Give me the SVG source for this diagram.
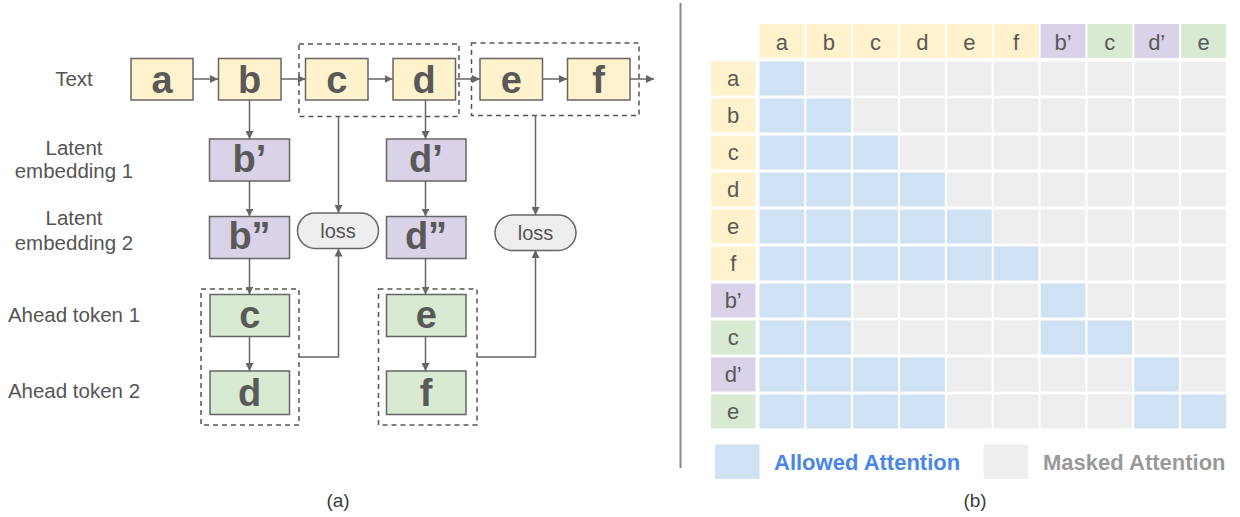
<svg xmlns="http://www.w3.org/2000/svg" width="1240" height="517" viewBox="0 0 1240 517">
  <style>
    .lbl { font-family: "Liberation Sans", Arial, sans-serif; font-size: 20.5px; fill: #555; text-anchor: middle; }
    .tok { font-family: "Liberation Sans", Arial, sans-serif; font-size: 38px; font-weight: bold; fill: #595959; text-anchor: middle; }
    .loss-t { font-family: "Liberation Sans", Arial, sans-serif; font-size: 20px; fill: #555; text-anchor: middle; }
    .cap { font-family: "Liberation Sans", Arial, sans-serif; font-size: 19px; fill: #3c3c3c; text-anchor: middle; }
    .gt { font-family: "Liberation Sans", Arial, sans-serif; font-size: 22px; fill: #595959; text-anchor: middle; }
    .yel { fill: #fff2cc; stroke: #666; stroke-width: 1.5; }
    .pur { fill: #d9d2e9; stroke: #666; stroke-width: 1.5; }
    .grn { fill: #d9ead3; stroke: #666; stroke-width: 1.5; }
    .loss { fill: #eeeeee; stroke: #666; stroke-width: 1.5; }
    .dash { fill: none; stroke: #555; stroke-width: 1.5; stroke-dasharray: 5 4; }
    .conn { fill: none; stroke: #666; stroke-width: 1.5; }
    .hy { fill: #fff2cc; } .hp { fill: #d9d2e9; } .hg { fill: #d9ead3; }
    .on { fill: #cfe2f3; } .off { fill: #eeeeee; }
    .leg { font-family: "Liberation Sans", Arial, sans-serif; font-size: 22px; font-weight: bold; }
  </style>
  <defs>
    <marker id="arr" viewBox="0 0 10 10" refX="10" refY="5" markerWidth="8" markerHeight="8" markerUnits="userSpaceOnUse" orient="auto">
      <path d="M0,0 L10,5 L0,10 z" fill="#666"/>
    </marker>
  </defs>

  <!-- row labels -->
  <g id="labels">
    <text class="lbl" x="74" y="86">Text</text>
    <text class="lbl" x="74" y="155">Latent</text>
    <text class="lbl" x="74" y="178">embedding 1</text>
    <text class="lbl" x="74" y="225">Latent</text>
    <text class="lbl" x="74" y="250">embedding 2</text>
    <text class="lbl" x="74" y="322">Ahead token 1</text>
    <text class="lbl" x="74" y="398">Ahead token 2</text>
  </g>

  <!-- dashed groupings -->
  <g id="group-cd"><rect class="dash" x="299" y="44" width="160" height="72.5"/></g>
  <g id="group-ef"><rect class="dash" x="471.5" y="43" width="167.5" height="72.5"/></g>
  <g id="group-ahead1"><rect class="dash" x="201" y="289" width="98" height="136"/></g>
  <g id="group-ahead2"><rect class="dash" x="378.5" y="289" width="98.5" height="136"/></g>

  <!-- connectors -->
  <g id="connectors" class="conn">
    <line x1="193" y1="79" x2="218" y2="79" marker-end="url(#arr)"/>
    <line x1="281" y1="79" x2="305.5" y2="79" marker-end="url(#arr)"/>
    <line x1="368" y1="79" x2="392.5" y2="79" marker-end="url(#arr)"/>
    <line x1="455.5" y1="79" x2="480" y2="79" marker-end="url(#arr)"/>
    <line x1="542.5" y1="79" x2="567" y2="79" marker-end="url(#arr)"/>
    <line x1="630" y1="79" x2="654" y2="79" marker-end="url(#arr)"/>
    <line x1="249.5" y1="100" x2="249.5" y2="139" marker-end="url(#arr)"/>
    <line x1="249.5" y1="181" x2="249.5" y2="216.5" marker-end="url(#arr)"/>
    <line x1="249.5" y1="258.5" x2="249.5" y2="294.5" marker-end="url(#arr)"/>
    <line x1="249.5" y1="336.5" x2="249.5" y2="371" marker-end="url(#arr)"/>
    <line x1="425.5" y1="100" x2="425.5" y2="139" marker-end="url(#arr)"/>
    <line x1="425.5" y1="181" x2="425.5" y2="216.5" marker-end="url(#arr)"/>
    <line x1="425.5" y1="258.5" x2="425.5" y2="294.5" marker-end="url(#arr)"/>
    <line x1="425.5" y1="336.5" x2="425.5" y2="371" marker-end="url(#arr)"/>
    <line x1="338.5" y1="116.5" x2="338.5" y2="213" marker-end="url(#arr)"/>
    <polyline points="299,357 338.5,357 338.5,248.5" marker-end="url(#arr)"/>
    <line x1="535.5" y1="115.5" x2="535.5" y2="215" marker-end="url(#arr)"/>
    <polyline points="477,357 535.5,357 535.5,250" marker-end="url(#arr)"/>
  </g>

  <!-- text tokens -->
  <g id="tok-a"><rect class="yel" x="131" y="58.5" width="62" height="41.5"/><text class="tok" x="162" y="93">a</text></g>
  <g id="tok-b"><rect class="yel" x="218.5" y="58.5" width="62.5" height="41.5"/><text class="tok" x="249.7" y="93">b</text></g>
  <g id="tok-c"><rect class="yel" x="305.5" y="58.5" width="62.5" height="41.5"/><text class="tok" x="336.7" y="93">c</text></g>
  <g id="tok-d"><rect class="yel" x="393" y="58.5" width="62.5" height="41.5"/><text class="tok" x="424.2" y="93">d</text></g>
  <g id="tok-e"><rect class="yel" x="480" y="58.5" width="62.5" height="41.5"/><text class="tok" x="511.2" y="93">e</text></g>
  <g id="tok-f"><rect class="yel" x="567.5" y="58.5" width="62.5" height="41.5"/><text class="tok" x="598.7" y="93">f</text></g>

  <!-- latent embeddings -->
  <g id="lat-b1"><rect class="pur" x="209.5" y="139" width="80" height="42"/><text class="tok" x="249.5" y="172">b’</text></g>
  <g id="lat-b2"><rect class="pur" x="209.5" y="216.5" width="80" height="42"/><text class="tok" x="249.5" y="248.5">b”</text></g>
  <g id="lat-d1"><rect class="pur" x="386.5" y="139" width="79.5" height="42"/><text class="tok" x="426" y="172">d’</text></g>
  <g id="lat-d2"><rect class="pur" x="386.5" y="216.5" width="79.5" height="42"/><text class="tok" x="426" y="248.5">d”</text></g>

  <!-- ahead tokens -->
  <g id="ahead-c"><rect class="grn" x="210" y="294.5" width="79.5" height="42"/><text class="tok" x="249.7" y="328">c</text></g>
  <g id="ahead-d"><rect class="grn" x="210" y="371" width="79.5" height="43.5"/><text class="tok" x="249.7" y="406">d</text></g>
  <g id="ahead-e"><rect class="grn" x="386.5" y="294.5" width="79.5" height="42"/><text class="tok" x="426.2" y="328">e</text></g>
  <g id="ahead-f"><rect class="grn" x="386.5" y="371" width="79.5" height="43.5"/><text class="tok" x="426.2" y="406">f</text></g>

  <!-- losses -->
  <g id="loss-1"><rect class="loss" x="297.5" y="213" width="81" height="35.5" rx="17.7"/><text class="loss-t" x="338" y="238">loss</text></g>
  <g id="loss-2"><rect class="loss" x="495" y="215" width="81" height="35.5" rx="17.7"/><text class="loss-t" x="535.5" y="240">loss</text></g>

  <!-- panel divider -->
  <line x1="680.5" y1="3" x2="680.5" y2="468" stroke="#888" stroke-width="2"/>

  <!-- attention mask grid -->
  <g id="grid-header">
    <rect class="hy" x="759.5" y="24" width="44.8" height="34"/><text class="gt" x="781.9" y="49.5">a</text>
    <rect class="hy" x="806.35" y="24" width="44.8" height="34"/><text class="gt" x="828.75" y="49.5">b</text>
    <rect class="hy" x="853.2" y="24" width="44.8" height="34"/><text class="gt" x="875.6" y="49.5">c</text>
    <rect class="hy" x="900.05" y="24" width="44.8" height="34"/><text class="gt" x="922.45" y="49.5">d</text>
    <rect class="hy" x="946.9" y="24" width="44.8" height="34"/><text class="gt" x="969.3" y="49.5">e</text>
    <rect class="hy" x="993.75" y="24" width="44.8" height="34"/><text class="gt" x="1016.15" y="49.5">f</text>
    <rect class="hp" x="1040.6" y="24" width="44.8" height="34"/><text class="gt" x="1063" y="49.5">b’</text>
    <rect class="hg" x="1087.45" y="24" width="44.8" height="34"/><text class="gt" x="1109.85" y="49.5">c</text>
    <rect class="hp" x="1134.3" y="24" width="44.8" height="34"/><text class="gt" x="1156.7" y="49.5">d’</text>
    <rect class="hg" x="1181.15" y="24" width="44.8" height="34"/><text class="gt" x="1203.55" y="49.5">e</text>
  </g>
  <g id="grid-rows">
    <rect class="hy" x="711" y="61.5" width="44.5" height="34"/><text class="gt" x="733.2" y="86.2">a</text>
    <rect class="hy" x="711" y="98.5" width="44.5" height="34"/><text class="gt" x="733.2" y="123.2">b</text>
    <rect class="hy" x="711" y="135.5" width="44.5" height="34"/><text class="gt" x="733.2" y="160.2">c</text>
    <rect class="hy" x="711" y="172.5" width="44.5" height="34"/><text class="gt" x="733.2" y="197.2">d</text>
    <rect class="hy" x="711" y="209.5" width="44.5" height="34"/><text class="gt" x="733.2" y="234.2">e</text>
    <rect class="hy" x="711" y="246.5" width="44.5" height="34"/><text class="gt" x="733.2" y="271.2">f</text>
    <rect class="hp" x="711" y="283.5" width="44.5" height="34"/><text class="gt" x="733.2" y="308.2">b’</text>
    <rect class="hg" x="711" y="320.5" width="44.5" height="34"/><text class="gt" x="733.2" y="345.2">c</text>
    <rect class="hp" x="711" y="357.5" width="44.5" height="34"/><text class="gt" x="733.2" y="382.2">d’</text>
    <rect class="hg" x="711" y="394.5" width="44.5" height="34"/><text class="gt" x="733.2" y="419.2">e</text>
  </g>
  <g id="grid-cells">
    <!-- row a -->
    <rect class="on" x="759.5" y="61.5" width="44.8" height="34"/>
    <rect class="off" x="806.35" y="61.5" width="44.8" height="34"/>
    <rect class="off" x="853.2" y="61.5" width="44.8" height="34"/>
    <rect class="off" x="900.05" y="61.5" width="44.8" height="34"/>
    <rect class="off" x="946.9" y="61.5" width="44.8" height="34"/>
    <rect class="off" x="993.75" y="61.5" width="44.8" height="34"/>
    <rect class="off" x="1040.6" y="61.5" width="44.8" height="34"/>
    <rect class="off" x="1087.45" y="61.5" width="44.8" height="34"/>
    <rect class="off" x="1134.3" y="61.5" width="44.8" height="34"/>
    <rect class="off" x="1181.15" y="61.5" width="44.8" height="34"/>
    <!-- row b -->
    <rect class="on" x="759.5" y="98.5" width="44.8" height="34"/>
    <rect class="on" x="806.35" y="98.5" width="44.8" height="34"/>
    <rect class="off" x="853.2" y="98.5" width="44.8" height="34"/>
    <rect class="off" x="900.05" y="98.5" width="44.8" height="34"/>
    <rect class="off" x="946.9" y="98.5" width="44.8" height="34"/>
    <rect class="off" x="993.75" y="98.5" width="44.8" height="34"/>
    <rect class="off" x="1040.6" y="98.5" width="44.8" height="34"/>
    <rect class="off" x="1087.45" y="98.5" width="44.8" height="34"/>
    <rect class="off" x="1134.3" y="98.5" width="44.8" height="34"/>
    <rect class="off" x="1181.15" y="98.5" width="44.8" height="34"/>
    <!-- row c -->
    <rect class="on" x="759.5" y="135.5" width="44.8" height="34"/>
    <rect class="on" x="806.35" y="135.5" width="44.8" height="34"/>
    <rect class="on" x="853.2" y="135.5" width="44.8" height="34"/>
    <rect class="off" x="900.05" y="135.5" width="44.8" height="34"/>
    <rect class="off" x="946.9" y="135.5" width="44.8" height="34"/>
    <rect class="off" x="993.75" y="135.5" width="44.8" height="34"/>
    <rect class="off" x="1040.6" y="135.5" width="44.8" height="34"/>
    <rect class="off" x="1087.45" y="135.5" width="44.8" height="34"/>
    <rect class="off" x="1134.3" y="135.5" width="44.8" height="34"/>
    <rect class="off" x="1181.15" y="135.5" width="44.8" height="34"/>
    <!-- row d -->
    <rect class="on" x="759.5" y="172.5" width="44.8" height="34"/>
    <rect class="on" x="806.35" y="172.5" width="44.8" height="34"/>
    <rect class="on" x="853.2" y="172.5" width="44.8" height="34"/>
    <rect class="on" x="900.05" y="172.5" width="44.8" height="34"/>
    <rect class="off" x="946.9" y="172.5" width="44.8" height="34"/>
    <rect class="off" x="993.75" y="172.5" width="44.8" height="34"/>
    <rect class="off" x="1040.6" y="172.5" width="44.8" height="34"/>
    <rect class="off" x="1087.45" y="172.5" width="44.8" height="34"/>
    <rect class="off" x="1134.3" y="172.5" width="44.8" height="34"/>
    <rect class="off" x="1181.15" y="172.5" width="44.8" height="34"/>
    <!-- row e -->
    <rect class="on" x="759.5" y="209.5" width="44.8" height="34"/>
    <rect class="on" x="806.35" y="209.5" width="44.8" height="34"/>
    <rect class="on" x="853.2" y="209.5" width="44.8" height="34"/>
    <rect class="on" x="900.05" y="209.5" width="44.8" height="34"/>
    <rect class="on" x="946.9" y="209.5" width="44.8" height="34"/>
    <rect class="off" x="993.75" y="209.5" width="44.8" height="34"/>
    <rect class="off" x="1040.6" y="209.5" width="44.8" height="34"/>
    <rect class="off" x="1087.45" y="209.5" width="44.8" height="34"/>
    <rect class="off" x="1134.3" y="209.5" width="44.8" height="34"/>
    <rect class="off" x="1181.15" y="209.5" width="44.8" height="34"/>
    <!-- row f -->
    <rect class="on" x="759.5" y="246.5" width="44.8" height="34"/>
    <rect class="on" x="806.35" y="246.5" width="44.8" height="34"/>
    <rect class="on" x="853.2" y="246.5" width="44.8" height="34"/>
    <rect class="on" x="900.05" y="246.5" width="44.8" height="34"/>
    <rect class="on" x="946.9" y="246.5" width="44.8" height="34"/>
    <rect class="on" x="993.75" y="246.5" width="44.8" height="34"/>
    <rect class="off" x="1040.6" y="246.5" width="44.8" height="34"/>
    <rect class="off" x="1087.45" y="246.5" width="44.8" height="34"/>
    <rect class="off" x="1134.3" y="246.5" width="44.8" height="34"/>
    <rect class="off" x="1181.15" y="246.5" width="44.8" height="34"/>
    <!-- row b' -->
    <rect class="on" x="759.5" y="283.5" width="44.8" height="34"/>
    <rect class="on" x="806.35" y="283.5" width="44.8" height="34"/>
    <rect class="off" x="853.2" y="283.5" width="44.8" height="34"/>
    <rect class="off" x="900.05" y="283.5" width="44.8" height="34"/>
    <rect class="off" x="946.9" y="283.5" width="44.8" height="34"/>
    <rect class="off" x="993.75" y="283.5" width="44.8" height="34"/>
    <rect class="on" x="1040.6" y="283.5" width="44.8" height="34"/>
    <rect class="off" x="1087.45" y="283.5" width="44.8" height="34"/>
    <rect class="off" x="1134.3" y="283.5" width="44.8" height="34"/>
    <rect class="off" x="1181.15" y="283.5" width="44.8" height="34"/>
    <!-- row c (ahead) -->
    <rect class="on" x="759.5" y="320.5" width="44.8" height="34"/>
    <rect class="on" x="806.35" y="320.5" width="44.8" height="34"/>
    <rect class="off" x="853.2" y="320.5" width="44.8" height="34"/>
    <rect class="off" x="900.05" y="320.5" width="44.8" height="34"/>
    <rect class="off" x="946.9" y="320.5" width="44.8" height="34"/>
    <rect class="off" x="993.75" y="320.5" width="44.8" height="34"/>
    <rect class="on" x="1040.6" y="320.5" width="44.8" height="34"/>
    <rect class="on" x="1087.45" y="320.5" width="44.8" height="34"/>
    <rect class="off" x="1134.3" y="320.5" width="44.8" height="34"/>
    <rect class="off" x="1181.15" y="320.5" width="44.8" height="34"/>
    <!-- row d' -->
    <rect class="on" x="759.5" y="357.5" width="44.8" height="34"/>
    <rect class="on" x="806.35" y="357.5" width="44.8" height="34"/>
    <rect class="on" x="853.2" y="357.5" width="44.8" height="34"/>
    <rect class="on" x="900.05" y="357.5" width="44.8" height="34"/>
    <rect class="off" x="946.9" y="357.5" width="44.8" height="34"/>
    <rect class="off" x="993.75" y="357.5" width="44.8" height="34"/>
    <rect class="off" x="1040.6" y="357.5" width="44.8" height="34"/>
    <rect class="off" x="1087.45" y="357.5" width="44.8" height="34"/>
    <rect class="on" x="1134.3" y="357.5" width="44.8" height="34"/>
    <rect class="off" x="1181.15" y="357.5" width="44.8" height="34"/>
    <!-- row e (ahead) -->
    <rect class="on" x="759.5" y="394.5" width="44.8" height="34"/>
    <rect class="on" x="806.35" y="394.5" width="44.8" height="34"/>
    <rect class="on" x="853.2" y="394.5" width="44.8" height="34"/>
    <rect class="on" x="900.05" y="394.5" width="44.8" height="34"/>
    <rect class="off" x="946.9" y="394.5" width="44.8" height="34"/>
    <rect class="off" x="993.75" y="394.5" width="44.8" height="34"/>
    <rect class="off" x="1040.6" y="394.5" width="44.8" height="34"/>
    <rect class="off" x="1087.45" y="394.5" width="44.8" height="34"/>
    <rect class="on" x="1134.3" y="394.5" width="44.8" height="34"/>
    <rect class="on" x="1181.15" y="394.5" width="44.8" height="34"/>
  </g>

  <!-- legend -->
  <g id="legend">
    <rect class="on" x="715" y="444.5" width="44.5" height="34.4"/>
    <text class="leg" x="774" y="469.5" fill="#4a86e8">Allowed Attention</text>
    <rect class="off" x="983.6" y="444.5" width="44.7" height="34.4"/>
    <text class="leg" x="1043" y="469.5" fill="#999999">Masked Attention</text>
  </g>

  <!-- captions -->
  <text class="cap" x="338" y="507">(a)</text>
  <text class="cap" x="975" y="507">(b)</text>
</svg>
